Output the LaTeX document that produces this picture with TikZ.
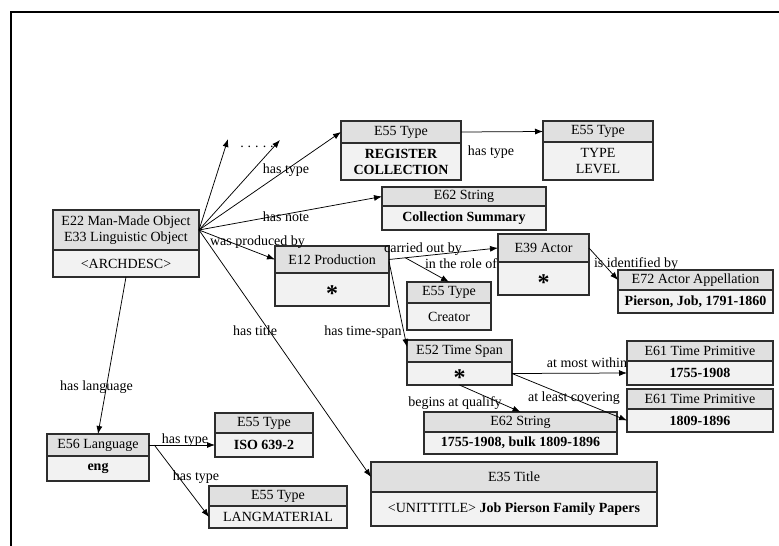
\documentclass[tikz,border=0pt]{standalone}
\usepackage{fontspec}
\setmainfont{Liberation Serif}
\usetikzlibrary{arrows.meta,calc}
\definecolor{hdrgray}{RGB}{224,224,224}
\definecolor{bdygray}{RGB}{242,242,242}
\definecolor{boxline}{RGB}{45,45,45}
\tikzset{
  cell/.style={draw=boxline, line width=1.1pt, anchor=north west, inner sep=0pt,
    outer sep=0pt, align=center, font=\fontsize{14}{16}\selectfont},
  hdr/.style={cell, fill=hdrgray},
  bdy/.style={cell, fill=bdygray},
  conn/.style={line width=0.75pt, -{Latex[length=8pt,width=6pt]}},
  lbl/.style={anchor=base, inner sep=0pt, font=\fontsize{14}{16}\selectfont},
}
\newcommand\crmbox[8]{%
  \node[hdr, minimum width={(#5-#2)*1pt}, minimum height={(#4-#3)*1pt}] (#1h) at (#2,#3) {#7};
  \node[bdy, minimum width={(#5-#2)*1pt}, minimum height={(#6-#4)*1pt}] (#1b) at (#2,#4) {#8};}
\newcommand\bigstar{{\fontsize{24}{24}\selectfont\bfseries\raisebox{-11.5pt}[0pt][0pt]{*}}}
\begin{document}
\begin{tikzpicture}[x=1pt,y=-1pt]
\useasboundingbox (0,0) rectangle (779,546);
% frame
\draw[line width=2pt] (10.5,546) -- (10.5,11.5) -- (779,11.5);

% boxes: name, x1, y1, ymid, x2, y2, header, body
\crmbox{e22}{53}{210}{250}{199}{277}{E22 Man-Made Object\\E33 Linguistic Object}{<ARCHDESC>}
\crmbox{reg}{341}{121}{143}{461}{180}{E55 Type}{\textbf{REGISTER}\\\textbf{COLLECTION}}
\crmbox{tl}{543}{121}{142}{653}{180}{E55 Type}{TYPE\\LEVEL}
\crmbox{cs}{382}{187}{206}{546}{230}{E62 String}{\textbf{Collection Summary}}
\crmbox{e12}{275}{246}{273}{389}{306}{E12 Production}{\bigstar}
\crmbox{e39}{498}{234}{262}{589}{295}{E39 Actor}{\bigstar}
\crmbox{cr}{407}{282}{303}{491}{330}{E55 Type}{Creator}
\crmbox{e72}{618}{270}{290}{773}{313}{E72 Actor Appellation}{\textbf{Pierson, Job, 1791-1860}}
\crmbox{e52}{407}{340}{362}{512}{385}{E52 Time Span}{\bigstar}
\crmbox{ta}{627}{341}{361}{773}{385}{E61 Time Primitive}{\textbf{1755-1908}}
\crmbox{tb}{627}{389}{409}{773}{432}{E61 Time Primitive}{\textbf{1809-1896}}
\crmbox{es}{424}{412}{432}{617}{454}{E62 String}{\textbf{1755-1908, bulk 1809-1896}}
\crmbox{e56}{47}{434}{456}{149}{481}{E56 Language}{\textbf{eng}}
\crmbox{iso}{215}{413}{433}{313}{457}{E55 Type}{\textbf{ISO 639-2}}
\crmbox{lang}{209}{486}{506}{347}{528}{E55 Type}{LANGMATERIAL}
\crmbox{e35}{371}{462}{492}{657}{526}{E35 Title}{<UNITTITLE> \textbf{Job Pierson Family Papers}}

% dots
\coordinate (d1) at (228,139);
\coordinate (d2) at (280,140);
\node[lbl] (dots) at (257,147) {.\hspace{4pt}.\hspace{4pt}.\hspace{4pt}.\hspace{4pt}.};

% connectors
\draw[conn] (e22h.east) -- (d1);
\draw[conn] (e22h.east) -- (d2);
\draw[conn] (e22h.east) -- (regh.west);
\draw[conn] (e22h.east) -- (csh.west);
\draw[conn] (e22h.east) -- (e12h.west);
\draw[conn] (e22h.east) -- (e35h.west);
\draw[conn] (e22b.south) -- (e56h.north);
\draw[conn] (regh.east) -- (tlh.west);
\draw[conn] (e12h.east) -- (e39h.west);
\draw[conn] ($(e12h.east)!0.15!(e39h.west)$) -- (crh.north);
\draw[conn] ([yshift=-2pt]e12h.east) -- ([yshift=4pt]e52h.west);
\draw[conn] (e39h.east) -- (e72h.west);
\draw[conn] (e52b.east) -- (tab.west);
\draw[conn] (e52b.east) -- (tbb.west);
\draw[conn] (e52b.south) -- (esh.north);
\draw[conn] (e56h.east) -- (isob.west);
\draw[conn] ($(e56h.east)!0.08!(isob.west)$) -- (langb.west);

% labels
\node[lbl] (l1) at (286,173) {has type};
\node[lbl] (l2) at (286,221) {has note};
\node[lbl] (l3) at (257.5,245) {was produced by};
\node[lbl] (l4) at (255,335) {has title};
\node[lbl] (l5) at (96.5,390) {has language};
\node[lbl] (l6) at (491,155) {has type};
\node[lbl] (l7) at (423,252) {carried out by};
\node[lbl] (l8) at (461,268) {in the role of};
\node[lbl] (l9) at (363,335) {has time-span};
\node[lbl] (l10) at (636,267) {is identified by};
\node[lbl] (l11) at (587,367) {at most within};
\node[lbl] (l12) at (574,401) {at least covering};
\node[lbl] (l13) at (455,406) {begins at qualify};
\node[lbl] (l14) at (185,443) {has type};
\node[lbl] (l15) at (196,480) {has type};
\end{tikzpicture}
\end{document}
